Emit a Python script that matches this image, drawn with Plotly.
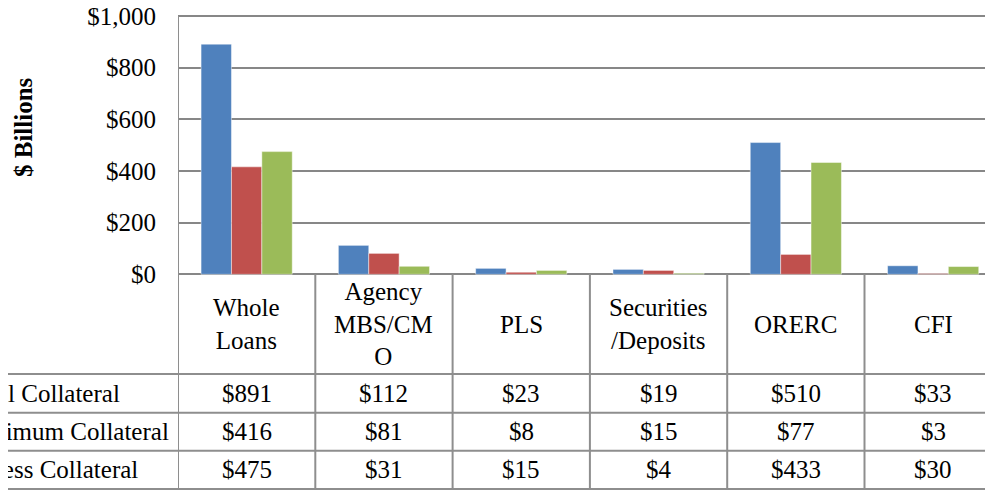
import plotly.graph_objects as go

# ---- data ----
categories = ["Whole Loans", "Agency MBS/CMO", "PLS", "Securities/Deposits", "ORERC", "CFI"]
header_labels = ["Whole<br>Loans", "Agency<br>MBS/CM<br>O", "PLS", "Securities<br>/Deposits", "ORERC", "CFI"]
series_names = ["Total Collateral", "Minimum Collateral", "Excess Collateral"]
total_collateral = [891, 112, 23, 19, 510, 33]
minimum_collateral = [416, 81, 8, 15, 77, 3]
excess_collateral = [475, 31, 15, 4, 433, 30]
y_tick_values = [0, 200, 400, 600, 800, 1000]
y_tick_labels = ["$0", "$200", "$400", "$600", "$800", "$1,000"]

series_values = [total_collateral, minimum_collateral, excess_collateral]
colors = ["#4F81BD", "#C0504D", "#9BBB59"]

# ---- layout constants (pixels, page coordinates; page shows figure offset by body margin) ----
OFF = 8                 # browser body margin
W, H = 993, 491
AXIS_X = 178            # page x of the y axis
TOP_Y = 16              # page y of the 1000 gridline
PLOT_TOP = 10           # page y of the plot-area top (a bit above the 1000 line)
Y0_PX = 274.3           # page y of value 0
M_L, M_T, M_B = AXIS_X - OFF, PLOT_TOP - OFF, 0
PX_PER_1000 = Y0_PX - TOP_Y

def ypx(py):
    """convert a page pixel row into y-axis data units"""
    return (Y0_PX - py) / PX_PER_1000 * 1000

plot_w = W - M_L
cat_w = 137.3
x_range = [-0.5, -0.5 + plot_w / cat_w]
y_range = [ypx(H - M_B + OFF), ypx(PLOT_TOP)]

def xpaper(px):
    """page pixel column -> paper x"""
    return (px - AXIS_X) / plot_w

FONT = "Liberation Serif, Times New Roman, serif"
FS = 25
LINE_C = "#8E8E8E"
GRID_C = "#878787"

fig = go.Figure()
for name, vals, col in zip(series_names, series_values, colors):
    fig.add_trace(go.Bar(
        x=categories, y=vals, name=name,
        marker=dict(color=col, line=dict(color="rgba(255,255,255,0.45)", width=1)),
    ))

shapes = []
row_lines_px = [374, 412.7, 450.7, 489]
for py in row_lines_px:
    shapes.append(dict(type="line", xref="paper", yref="y", x0=-0.5, x1=1.0,
                       y0=ypx(py), y1=ypx(py), line=dict(color=LINE_C, width=2)))
for k in range(len(categories)):
    xb = k + 0.5
    shapes.append(dict(type="line", xref="x", yref="y", x0=xb, x1=xb,
                       y0=0, y1=ypx(489), line=dict(color=LINE_C, width=2)))
# left border of the table / axis line
shapes.append(dict(type="line", xref="x", yref="y", x0=-0.5, x1=-0.5,
                   y0=1000, y1=ypx(489), line=dict(color=LINE_C, width=2)))

annotations = []
txt_font = dict(family=FONT, size=FS, color="black")
header_y = ypx((Y0_PX + 374) / 2)
for cat, lab in zip(categories, header_labels):
    annotations.append(dict(x=cat, y=header_y, xref="x", yref="y", text=lab,
                            showarrow=False, font=txt_font,
                            align="center", xanchor="center", yanchor="middle"))
row_centers_px = [(374 + 412.7) / 2, (412.7 + 450.7) / 2, (450.7 + 489) / 2]
for name, vals, py in zip(series_names, series_values, row_centers_px):
    yy = ypx(py)
    annotations.append(dict(x=xpaper(-38), y=yy, xref="paper", yref="y",
                            text=name, showarrow=False, xanchor="left", yanchor="middle",
                            font=txt_font))
    for cat, v in zip(categories, vals):
        annotations.append(dict(x=cat, y=yy, xref="x", yref="y", text=f"${v:,}",
                                showarrow=False, xanchor="center", yanchor="middle",
                                font=txt_font))
annotations.append(dict(x=xpaper(23), y=ypx(127), xref="paper", yref="y",
                        text="<b>$ Billions</b>", textangle=-90, showarrow=False,
                        xanchor="center", yanchor="middle", font=txt_font))

fig.update_layout(
    width=W, height=H,
    margin=dict(l=M_L, r=0, t=M_T, b=M_B, pad=0, autoexpand=False),
    paper_bgcolor="white", plot_bgcolor="white",
    barmode="group", bargap=0.336, bargroupgap=0,
    showlegend=False,
    font=dict(family=FONT, size=FS, color="black"),
    xaxis=dict(type="category", range=x_range, showticklabels=False, showgrid=False,
               zeroline=False, showline=False, ticks="", automargin=False),
    yaxis=dict(range=y_range, tickvals=y_tick_values, ticktext=y_tick_labels,
               showgrid=True, gridcolor=GRID_C, gridwidth=1.5, zeroline=False,
               showline=False, ticks="", ticklabeloverflow="allow", automargin=False,
               ticklabelstandoff=21, tickfont=txt_font),
    shapes=shapes, annotations=annotations,
)

fig.write_html("out.html")
